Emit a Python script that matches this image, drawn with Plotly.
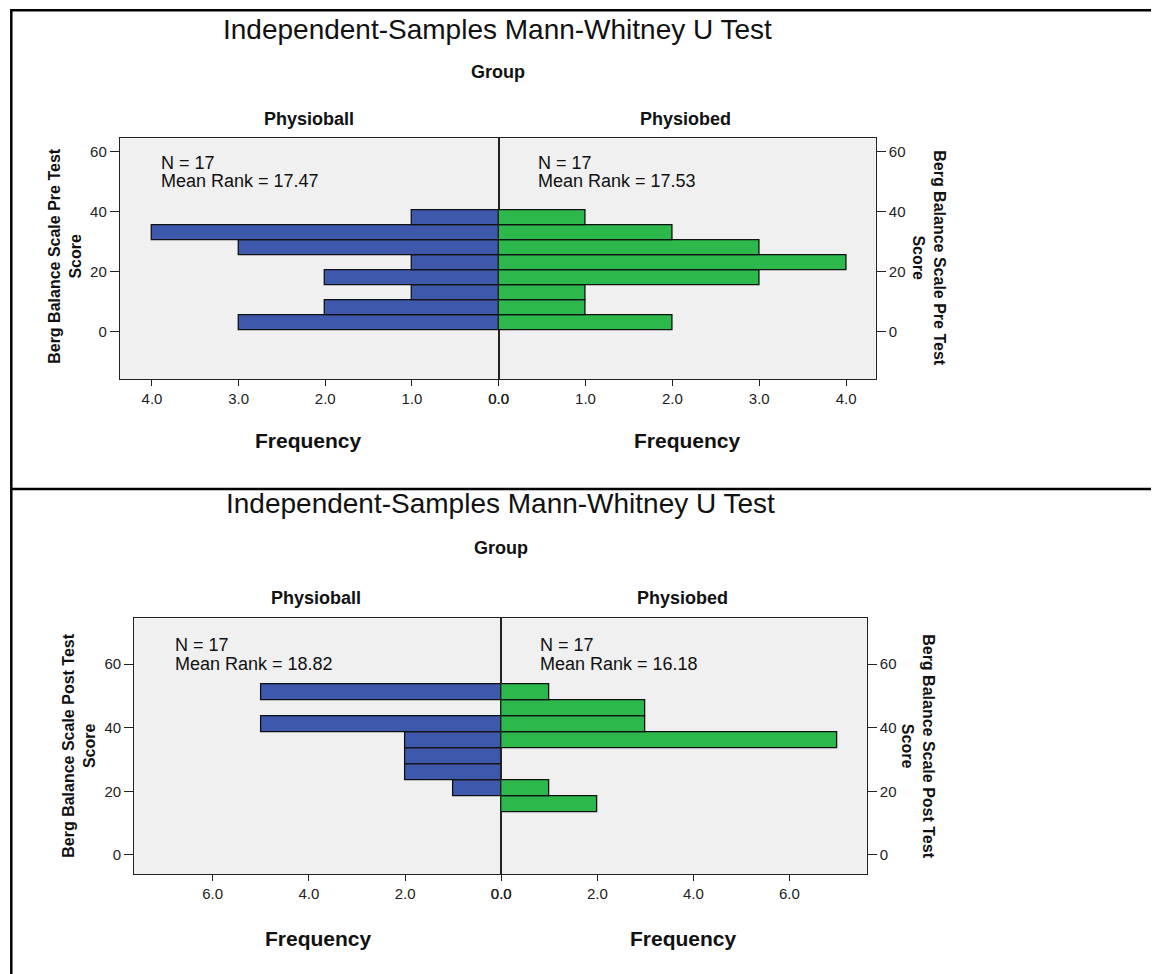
import plotly.graph_objects as go

W, H = 1161, 974

# The photographed page shows the figure's paper between x≈8 and x≈1153,
# so horizontal target pixels are mapped onto that span.
X0, XW = 8.0, 1145.0


def px(x):
    return (x - X0) / XW


def py(y):
    return 1 - y / H


# ---------------- data ----------------
pre_bin_centers = [3, 8, 13, 18, 23, 28, 33, 38]
pre_physioball = [3, 2, 1, 2, 1, 3, 4, 1]
pre_physiobed = [2, 1, 1, 3, 4, 3, 2, 1]

post_bin_centers = [16, 21, 26, 31, 36, 41, 46, 51]
post_physioball = [0, 1, 2, 2, 2, 5, 0, 5]
post_physiobed = [2, 1, 0, 0, 7, 3, 3, 1]

bin_width = 5
groups = ["Physioball", "Physiobed"]
pre_stats = ["N = 17", "Mean Rank = 17.47", "N = 17", "Mean Rank = 17.53"]
post_stats = ["N = 17", "Mean Rank = 18.82", "N = 17", "Mean Rank = 16.18"]
title_text = "Independent-Samples Mann-Whitney U Test"
pre_ytitle = "Berg Balance Scale Pre Test<br>Score"
post_ytitle = "Berg Balance Scale Post Test<br>Score"
pre_xticks = [0, 1, 2, 3, 4]
post_xticks = [0, 2, 4, 6]
yticks = [0, 20, 40, 60]

BLUE = "#3E59AC"
GREEN = "#2DB84B"
FONT = "Liberation Sans, Arial, sans-serif"

fig = go.Figure()


def add_bars(centers, counts, color, xa, ya):
    ys = [c for c, n in zip(centers, counts) if n > 0]
    xs = [n for n in counts if n > 0]
    fig.add_trace(go.Bar(
        x=xs, y=ys, orientation="h", width=bin_width, base=0,
        marker=dict(color=color, line=dict(color="#111111", width=1.3)),
        xaxis=xa, yaxis=ya, showlegend=False, hoverinfo="x+y",
    ))


add_bars(pre_bin_centers, pre_physioball, BLUE, "x", "y")
add_bars(pre_bin_centers, pre_physiobed, GREEN, "x2", "y2")
add_bars(post_bin_centers, post_physioball, BLUE, "x3", "y3")
add_bars(post_bin_centers, post_physiobed, GREEN, "x4", "y4")

axis_common = dict(
    showline=True, linecolor="#222222", linewidth=1.3, mirror=True,
    showgrid=False, zeroline=False, ticks="outside", tickcolor="#222222",
    tickwidth=1.3,
    tickfont=dict(family=FONT, size=15, color="#222222"), fixedrange=True,
)

top_y = [py(379.3), py(138.3)]
bot_y = [py(874.0), py(618.3)]

fig.update_layout(
    width=W, height=H,
    margin=dict(l=0, r=0, t=0, b=0),
    paper_bgcolor="white", plot_bgcolor="#F0F0F0",
    bargap=0, barmode="overlay",
    xaxis=dict(axis_common, domain=[px(118.3), px(498.3)], range=[4.37, 0],
               anchor="y", tickvals=pre_xticks, tickformat=".1f", ticklen=6),
    yaxis=dict(axis_common, domain=top_y, range=[-15.9, 64.5], anchor="x",
               side="left", tickvals=yticks, ticklen=9),
    xaxis2=dict(axis_common, domain=[px(498.3), px(876.7)], range=[0, 4.34],
                anchor="y2", tickvals=pre_xticks, tickformat=".1f", ticklen=6),
    yaxis2=dict(axis_common, domain=top_y, range=[-15.9, 64.5], anchor="x2",
                side="right", tickvals=yticks, ticklen=9),
    xaxis3=dict(axis_common, domain=[px(132.7), px(501.0)], range=[7.63, 0],
                anchor="y3", tickvals=post_xticks, tickformat=".1f", ticklen=6),
    yaxis3=dict(axis_common, domain=bot_y, range=[-6.0, 74.4], anchor="x3",
                side="left", tickvals=yticks, ticklen=9),
    xaxis4=dict(axis_common, domain=[px(501.0), px(867.7)], range=[0, 7.61],
                anchor="y4", tickvals=post_xticks, tickformat=".1f", ticklen=6),
    yaxis4=dict(axis_common, domain=bot_y, range=[-6.0, 74.4], anchor="x4",
                side="right", tickvals=yticks, ticklen=9),
)

anns = []


def ann(text, x, y, size, bold=False, xanchor="center", angle=0, align="center"):
    t = f"<b>{text}</b>" if bold else text
    anns.append(dict(
        text=t, x=px(x), y=py(y), xref="paper", yref="paper",
        xanchor=xanchor, yanchor="middle", showarrow=False, textangle=angle,
        align=align, font=dict(family=FONT, size=size, color="#111111"),
    ))


# top chart texts
ann(title_text, 497, 30, 28)
ann("Group", 498, 72, 18, bold=True)
ann(groups[0], 308, 119, 18, bold=True)
ann(groups[1], 686, 119, 18, bold=True)
ann("Frequency", 308, 440, 21, bold=True)
ann("Frequency", 688, 440, 21, bold=True)
ann(pre_stats[0], 158, 163, 18, xanchor="left")
ann(pre_stats[1], 158, 181, 18, xanchor="left")
ann(pre_stats[2], 536, 163, 18, xanchor="left")
ann(pre_stats[3], 536, 181, 18, xanchor="left")
ann(pre_ytitle, 63, 256, 16, bold=True, angle=-90)
ann(pre_ytitle, 930, 258, 16, bold=True, angle=90)

# bottom chart texts
ann(title_text, 500, 503, 28)
ann("Group", 501, 548, 18, bold=True)
ann(groups[0], 315, 598, 18, bold=True)
ann(groups[1], 683, 598, 18, bold=True)
ann("Frequency", 318, 938, 21, bold=True)
ann("Frequency", 684, 938, 21, bold=True)
ann(post_stats[0], 172, 645, 18, xanchor="left")
ann(post_stats[1], 172, 664, 18, xanchor="left")
ann(post_stats[2], 538, 645, 18, xanchor="left")
ann(post_stats[3], 538, 664, 18, xanchor="left")
ann(post_ytitle, 77, 746, 16, bold=True, angle=-90)
ann(post_ytitle, 919, 746, 16, bold=True, angle=90)

fig.update_layout(annotations=anns)

# table cell borders
line = dict(color="black", width=2.5)
left_edge = 1.3 / XW
fig.add_shape(type="line", xref="paper", yref="paper",
              x0=left_edge, x1=1, y0=py(10.2), y1=py(10.2), line=line)
fig.add_shape(type="line", xref="paper", yref="paper",
              x0=left_edge, x1=1, y0=py(489), y1=py(489), line=line)
fig.add_shape(type="line", xref="paper", yref="paper",
              x0=left_edge, x1=left_edge, y0=py(9), y1=0, line=line)

fig.write_html(
    "out.html",
    config={"displayModeBar": False},
    post_script="document.documentElement.style.margin='0';"
                "document.body.style.margin='0';"
                "document.body.style.padding='0';"
                "document.body.style.overflow='hidden';",
)
